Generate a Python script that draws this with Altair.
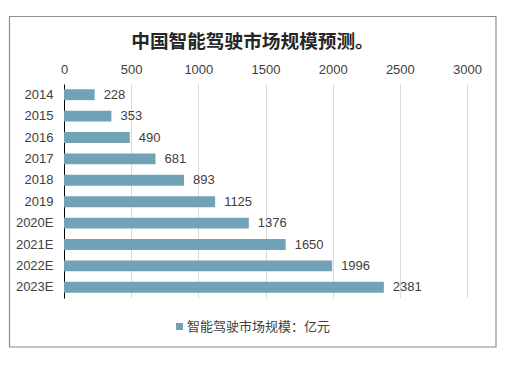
import altair as alt
import pandas as pd

years = ["2014", "2015", "2016", "2017", "2018", "2019", "2020E", "2021E", "2022E", "2023E"]
values = [228, 353, 490, 681, 893, 1125, 1376, 1650, 1996, 2381]
series_name = "智能驾驶市场规模：亿元"
title_text = "中国智能驾驶市场规模预测。"
x_ticks = [0, 500, 1000, 1500, 2000, 2500, 3000]

df = pd.DataFrame({"year": years, "value": values, "series": [series_name] * len(years)})

FONT = "Liberation Sans, Noto Sans CJK SC, sans-serif"
BAR = "#72A2B5"

y_enc = alt.Y("year:N", sort=years,
              scale=alt.Scale(paddingInner=0.49, paddingOuter=0.245),
              axis=alt.Axis(title=None, ticks=False, grid=False, domain=True,
                            domainColor="#000000", domainWidth=1,
                            labelPadding=11, labelFontSize=13, labelColor="#404040",
                            labelFont=FONT))
x_enc = alt.X("value:Q", scale=alt.Scale(domain=[0, 3000], nice=False),
              axis=alt.Axis(title=None, orient="top", values=x_ticks, ticks=False, tickSize=0,
                            domain=False, grid=True, gridColor="#D9D9D9", gridWidth=1,
                            labelPadding=8, labelFontSize=13, labelColor="#404040",
                            labelFlush=False, labelFont=FONT, format="d"))

bars = alt.Chart(df).mark_bar(color=BAR).encode(
    x=x_enc, y=y_enc,
    color=alt.Color("series:N", scale=alt.Scale(range=[BAR]),
                    legend=alt.Legend(title=None, orient="none", legendX=109, legendY=236,
                                      symbolType="square", symbolSize=49, symbolStrokeWidth=0,
                                      labelFontSize=13, labelColor="#404040", labelFont=FONT,
                                      labelOffset=1))
)

labels = alt.Chart(df).mark_text(align="left", baseline="middle", dx=9, fontSize=13,
                                 color="#404040", font=FONT).encode(
    x="value:Q", y=alt.Y("year:N", sort=years), text="value:Q"
)

border = alt.Chart(pd.DataFrame({"a": [0]})).mark_rect(
    fill=None, stroke="#8C8C8C", strokeWidth=1.2
).encode(
    x=alt.value(-54.5), x2=alt.value(432), y=alt.value(-67.5), y2=alt.value(263)
)

chart = alt.layer(border, bars, labels).properties(
    width=403, height=214,
    title=alt.TitleParams(title_text, fontSize=18.67, fontWeight="bold", color="#262626",
                          font=FONT, anchor="middle", dx=-13, offset=-36),
    padding={"left": 56, "top": 76, "right": 34, "bottom": 59},
    autosize=alt.AutoSizeParams(type="none"),
).configure_view(stroke=None)

chart.save("out.html", embed_options={"renderer": "svg", "actions": False})
